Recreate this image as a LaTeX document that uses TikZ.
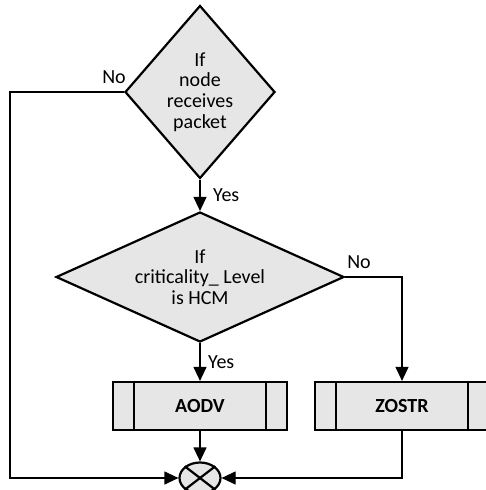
\documentclass[tikz,border=0pt]{standalone}
\usepackage{fontspec}
\setmainfont{Carlito}
\usetikzlibrary{shapes.geometric,arrows.meta}
\definecolor{boxgray}{HTML}{E6E6E6}
\begin{document}
\begin{tikzpicture}[x=1pt,y=-1pt,
 shapeline/.style={draw=black,line width=2.2pt,fill=boxgray},
 conn/.style={draw=black,line width=1.2pt},
 arr/.style={conn,-{Triangle[width=13pt,length=14pt]}},
 dec/.style={diamond,shapeline,inner sep=0pt},
 txt/.style={font=\fontsize{20}{20.7}\selectfont,align=center,inner sep=0pt},
 lbl/.style={font=\fontsize{20}{20}\selectfont,inner sep=0pt},
 proc/.style={rectangle,shapeline,minimum width=174pt,minimum height=48pt,inner sep=0pt,font=\bfseries\fontsize{20}{20}\selectfont},
 bar/.style={draw=black,line width=2.2pt}
]
\useasboundingbox (0,0) rectangle (486,490);
\clip (0,0) rectangle (486,490);

\node[dec,minimum width=150pt,minimum height=173pt] (d1) at (200,92) {};
\node[txt] (t1) at (d1.center) {If\\node\\receives\\packet};
\node[dec,minimum width=288pt,minimum height=130pt] (d2) at (200,277) {};
\node[txt] (t2) at (d2.center) {If\\criticality\_ Level\\is HCM};

\node[proc] (aodv) at (200,406) {AODV};
\draw[bar] ([xshift=22pt]aodv.north west) -- ([xshift=22pt]aodv.south west);
\draw[bar] ([xshift=-22pt]aodv.north east) -- ([xshift=-22pt]aodv.south east);
\node[proc] (zostr) at (402,406) {ZOSTR};
\draw[bar] ([xshift=22pt]zostr.north west) -- ([xshift=22pt]zostr.south west);
\draw[bar] ([xshift=-22pt]zostr.north east) -- ([xshift=-22pt]zostr.south east);

\node[ellipse,shapeline,minimum width=41pt,minimum height=31pt,inner sep=0pt] (j) at (200,478) {};
\draw[bar] (j.north west) -- (j.south east) (j.north east) -- (j.south west);

\coordinate (lc) at (10,92);

\draw[arr] (d1.south) -- (d2.north);
\draw[arr] (d2.south) -- (aodv.north);
\draw[arr] (d2.east) -| (zostr.north);
\draw[arr] (d1.west) -- (lc) |- (j.west);
\draw[arr] (zostr.south) |- (j.east);
\draw[arr] (aodv.south) -- (j.north);

\node[lbl] (no1) at (114,77) {No};
\node[lbl,anchor=west] (yes1) at (213,195) {Yes};
\node[lbl] (no2) at (359,262) {No};
\node[lbl,anchor=west] (yes2) at (208,362) {Yes};
\end{tikzpicture}
\end{document}
